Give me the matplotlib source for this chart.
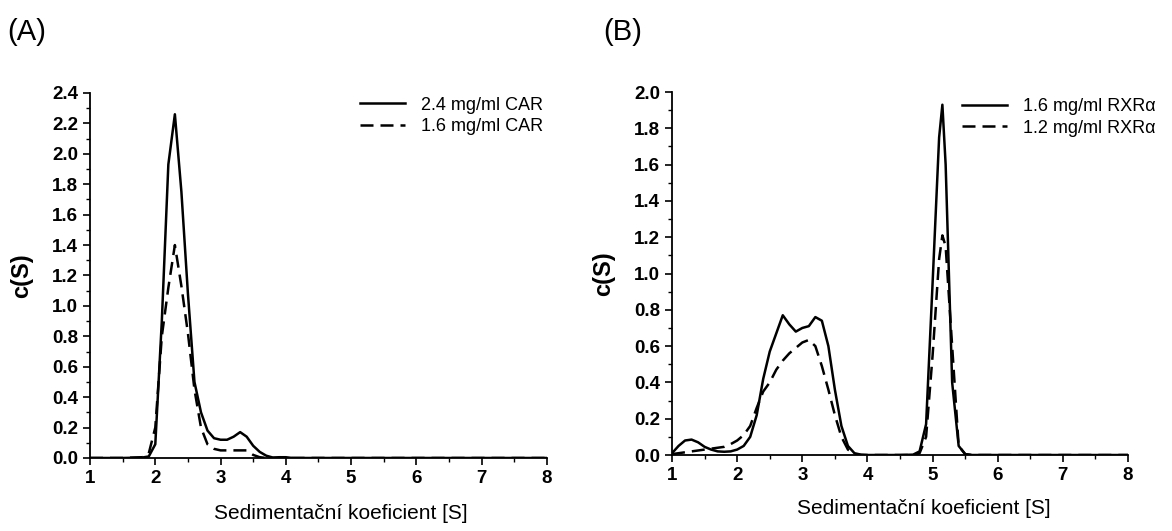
import matplotlib
matplotlib.use("Agg")
import matplotlib.pyplot as plt
from matplotlib.ticker import MultipleLocator, FormatStrFormatter

plt.rcParams['font.family'] = ['Liberation Sans', 'DejaVu Sans']

# panel A - CAR
car_x = [1.0, 1.5, 1.8, 1.9, 2.0, 2.1, 2.2, 2.3, 2.4, 2.5, 2.6, 2.7, 2.8, 2.9, 3.0,
         3.1, 3.2, 3.3, 3.4, 3.5, 3.6, 3.7, 3.8, 3.9, 4.0, 4.1, 5.0, 8.0]
car_24 = [0, 0, 0.003, 0.01, 0.09, 0.9, 1.93, 2.26, 1.75, 1.08, 0.5, 0.3, 0.18, 0.13, 0.12,
          0.12, 0.14, 0.17, 0.14, 0.08, 0.04, 0.015, 0.003, 0.005, 0.005, 0, 0, 0]
car_16 = [0, 0, 0.005, 0.03, 0.2, 0.8, 1.12, 1.40, 1.13, 0.82, 0.45, 0.2, 0.09, 0.06, 0.05,
          0.05, 0.05, 0.05, 0.05, 0.02, 0.005, 0, 0, 0, 0, 0, 0, 0]

# panel B - RXRa
rxr_x = [1.0, 1.1, 1.2, 1.3, 1.4, 1.5, 1.6, 1.7, 1.8, 1.9, 2.0, 2.1, 2.2, 2.3, 2.4, 2.5,
         2.6, 2.7, 2.8, 2.9, 3.0, 3.1, 3.2, 3.3, 3.4, 3.5, 3.6, 3.7, 3.8, 3.9, 4.0,
         4.5, 4.7, 4.8, 4.9, 5.0, 5.1, 5.15, 5.2, 5.3, 5.4, 5.5, 5.6, 6.0, 8.0]
rxr_16 = [0.01, 0.05, 0.08, 0.085, 0.07, 0.045, 0.03, 0.02, 0.018, 0.02, 0.03, 0.05, 0.1, 0.22,
          0.42, 0.57, 0.67, 0.77, 0.72, 0.68, 0.70, 0.71, 0.76, 0.74, 0.6, 0.36, 0.16, 0.05,
          0.01, 0.002, 0, 0, 0.002, 0.02, 0.17, 0.95, 1.75, 1.93, 1.6, 0.4, 0.05, 0.005, 0, 0, 0]
rxr_12 = [0.005, 0.01, 0.015, 0.02, 0.025, 0.03, 0.035, 0.04, 0.045, 0.06, 0.08, 0.11, 0.16, 0.26,
          0.35, 0.40, 0.47, 0.52, 0.56, 0.59, 0.62, 0.634, 0.6, 0.49, 0.36, 0.22, 0.1, 0.03,
          0.005, 0, 0, 0, 0, 0.01, 0.1, 0.55, 1.08, 1.21, 1.15, 0.6, 0.05, 0.005, 0, 0, 0]

labels_a = ['2.4 mg/ml CAR', '1.6 mg/ml CAR']
labels_b = ['1.6 mg/ml RXRα', '1.2 mg/ml RXRα']

fig = plt.figure(figsize=(11.72, 5.31), dpi=100)
axA = fig.add_axes([0.0768, 0.1375, 0.3899, 0.6874])
axB = fig.add_axes([0.5734, 0.1431, 0.3891, 0.6836])

dash = (5.2, 2.8)


def style(ax, ymax, legend_labels, leg_x, leg_y, xlab_pos):
    ax.set_xlim(1, 8)
    ax.set_ylim(0, ymax)
    ax.spines['top'].set_visible(False)
    ax.spines['right'].set_visible(False)
    for s in ('left', 'bottom'):
        ax.spines[s].set_linewidth(1.3)
    ax.xaxis.set_major_locator(MultipleLocator(1))
    ax.xaxis.set_minor_locator(MultipleLocator(0.5))
    ax.yaxis.set_major_locator(MultipleLocator(0.2))
    ax.yaxis.set_minor_locator(MultipleLocator(0.1))
    ax.yaxis.set_major_formatter(FormatStrFormatter('%.1f'))
    ax.tick_params(which='major', direction='out', length=5, width=1.2, labelsize=13.5)
    ax.tick_params(which='minor', direction='out', length=3, width=1.0)
    ax.set_ylabel('c(S)', fontsize=17, fontweight='bold')
    ax.yaxis.set_label_coords(-0.125, 0.5)
    ax.set_xlabel('Sedimentační koeficient [S]', fontsize=15)
    ax.xaxis.set_label_coords(*xlab_pos)
    ax.legend(legend_labels, loc='upper left', bbox_to_anchor=(leg_x, leg_y),
              frameon=False, fontsize=13, handlelength=2.5, handletextpad=0.9,
              labelspacing=0.25, borderpad=0, borderaxespad=0)


axA.plot(car_x, car_24, color='black', lw=1.8)
axA.plot(car_x, car_16, color='black', lw=1.8, dashes=dash)
style(axA, 2.4, labels_a, 0.59, 0.99, (0.549, -0.125))

axB.plot(rxr_x, rxr_16, color='black', lw=1.8)
axB.plot(rxr_x, rxr_12, color='black', lw=1.8, dashes=dash)
style(axB, 2.0, labels_b, 0.636, 0.983, (0.553, -0.12))

fig.text(0.006, 0.94, '(A)', fontsize=21, va='center', ha='left')
fig.text(0.515, 0.94, '(B)', fontsize=21, va='center', ha='left')

for ax in (axA, axB):
    for lab in ax.get_xticklabels() + ax.get_yticklabels():
        lab.set_fontweight('bold')

fig.savefig('out.png', dpi=100)
